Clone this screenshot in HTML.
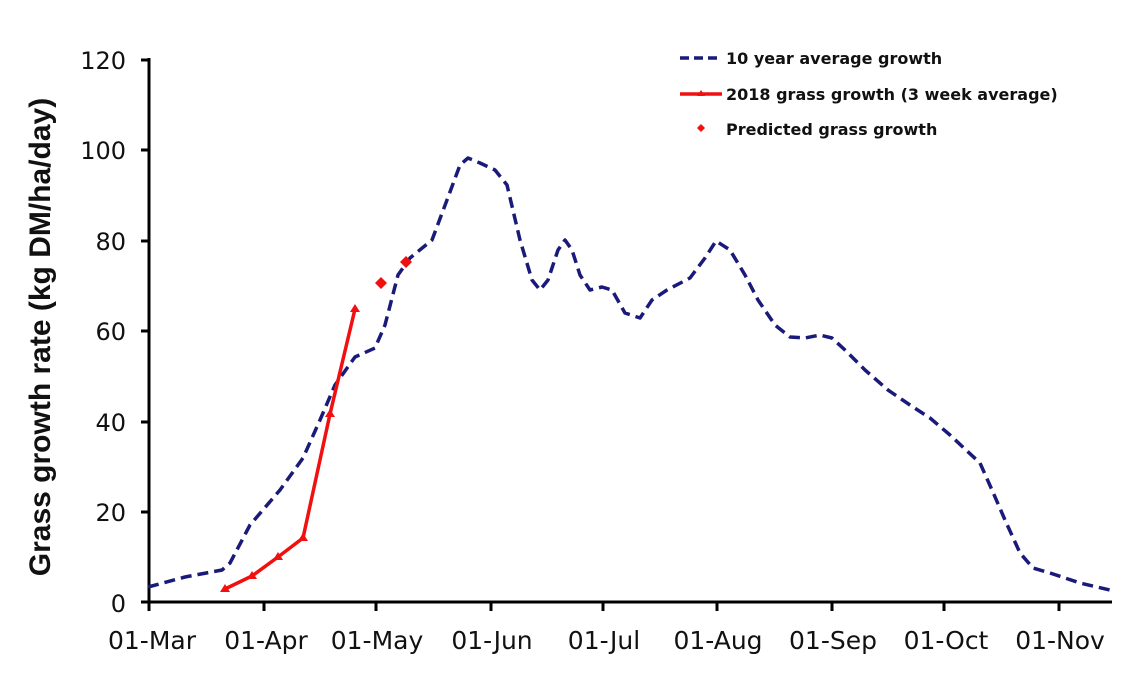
<!DOCTYPE html>
<html><head><meta charset="utf-8"><style>
html,body{margin:0;padding:0;background:#fff}
svg{display:block}
text{font-family:"DejaVu Sans","Liberation Sans",sans-serif}
</style></head><body>
<svg width="1133" height="678" viewBox="0 0 1133 678" xmlns="http://www.w3.org/2000/svg">
<rect width="1133" height="678" fill="#fff"/>
<g stroke="#000" stroke-width="3" fill="none">
<line x1="149" y1="58" x2="149" y2="604"/>
<line x1="141" y1="602" x2="1112" y2="602"/>
<line x1="141" y1="60" x2="149" y2="60"/>
<line x1="141" y1="150" x2="149" y2="150"/>
<line x1="141" y1="241" x2="149" y2="241"/>
<line x1="141" y1="331" x2="149" y2="331"/>
<line x1="141" y1="422" x2="149" y2="422"/>
<line x1="141" y1="512" x2="149" y2="512"/>
<line x1="149" y1="602" x2="149" y2="611"/>
<line x1="264" y1="602" x2="264" y2="611"/>
<line x1="376" y1="602" x2="376" y2="611"/>
<line x1="491" y1="602" x2="491" y2="611"/>
<line x1="603" y1="602" x2="603" y2="611"/>
<line x1="717" y1="602" x2="717" y2="611"/>
<line x1="832" y1="602" x2="832" y2="611"/>
<line x1="944" y1="602" x2="944" y2="611"/>
<line x1="1059" y1="602" x2="1059" y2="611"/>
</g>
<g font-size="24" fill="#111" text-anchor="end">
<text x="126" y="69">120</text>
<text x="126" y="159">100</text>
<text x="126" y="250">80</text>
<text x="126" y="340">60</text>
<text x="126" y="431">40</text>
<text x="126" y="521">20</text>
<text x="126" y="612">0</text>
</g>
<g font-size="25" fill="#111" text-anchor="middle">
<text x="152" y="649">01-Mar</text>
<text x="266" y="649">01-Apr</text>
<text x="377" y="649">01-May</text>
<text x="492" y="649">01-Jun</text>
<text x="604" y="649">01-Jul</text>
<text x="718" y="649">01-Aug</text>
<text x="833" y="649">01-Sep</text>
<text x="946" y="649">01-Oct</text>
<text x="1060" y="649">01-Nov</text>
</g>
<text transform="translate(50,337) rotate(-90)" font-size="30" font-weight="bold" text-anchor="middle" fill="#111" style="font-family:'Liberation Sans',sans-serif">Grass growth rate (kg DM/ha/day)</text>
<polyline fill="none" stroke="#1a1a7a" stroke-width="3.5" stroke-dasharray="11,6" stroke-linejoin="round"
points="148,587 185,577 222,570 230,563 250,525 280,490 303,458 320,420 335,385 355,357 375,348 385,325 398,275 410,258 432,240 447,200 460,165 468,158 480,163 495,170 507,185 520,240 532,280 540,290 548,280 558,250 565,240 572,250 580,275 590,290 602,287 612,290 625,313 640,318 652,300 667,290 690,278 705,258 716,241 730,250 745,275 758,300 775,325 790,337 805,338 820,335 832,338 845,350 865,370 888,390 910,405 930,418 950,435 966,450 980,463 992,490 1005,520 1020,553 1033,568 1050,573 1065,578 1080,583 1110,590"/>
<polyline fill="none" stroke="#f01010" stroke-width="3.5" points="225,589 252,576 278,557 303,538 330,414 355,309"/>
<g fill="#f01010">
<polygon points="225,584 230,592 220,592"/>
<polygon points="252,571 257,579 247,579"/>
<polygon points="278,552 283,560 273,560"/>
<polygon points="303,533 308,541 298,541"/>
<polygon points="330,409 335,417 325,417"/>
<polygon points="355,304 360,312 350,312"/>
<polygon points="381,277 387,283 381,289 375,283"/>
<polygon points="406,256 412,262 406,268 400,262"/>
</g>
<line x1="680" y1="58" x2="722" y2="58" stroke="#1a1a7a" stroke-width="3.5" stroke-dasharray="9,5"/>
<text x="726" y="64" font-size="16" font-weight="bold" fill="#111">10 year average growth</text>
<line x1="680" y1="94" x2="722" y2="94" stroke="#f01010" stroke-width="3.5"/>
<polygon points="701,90 705,96 697,96" fill="#f01010"/>
<text x="726" y="100" font-size="16" font-weight="bold" fill="#111">2018 grass growth (3 week average)</text>
<polygon points="701,124 705,128 701,132 697,128" fill="#f01010"/>
<text x="726" y="135" font-size="16" font-weight="bold" fill="#111">Predicted grass growth</text>
</svg>
</body></html>
